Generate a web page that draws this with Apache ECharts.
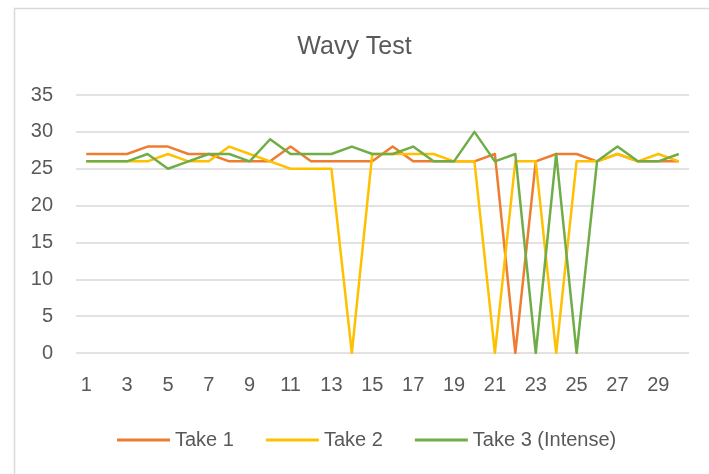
<!DOCTYPE html>
<html>
<head>
<meta charset="utf-8">
<script src="https://cdn.jsdelivr.net/npm/echarts@6/dist/echarts.min.js"></script>
<style>
  html, body { margin: 0; padding: 0; background: #fff; }
  #chart { width: 709px; height: 474px; }
</style>
</head>
<body>
<div id="chart"></div>
<script>
  var categories = [];
  for (var i = 1; i <= 30; i++) categories.push(String(i));

  var take1 = [27, 27, 27, 28, 28, 27, 27, 26, 26, 26, 28, 26, 26, 26, 26, 28, 26, 26, 26, 26, 27, 0, 26, 27, 27, 26, 27, 26, 26, 26];
  var take2 = [26, 26, 26, 26, 27, 26, 26, 28, 27, 26, 25, 25, 25, 0, 27, 27, 27, 27, 26, 26, 0, 26, 26, 0, 26, 26, 27, 26, 27, 26];
  var take3 = [26, 26, 26, 27, 25, 26, 27, 27, 26, 29, 27, 27, 27, 28, 27, 27, 28, 26, 26, 30, 26, 27, 0, 27, 0, 26, 28, 26, 26, 27];

  var font = 'Liberation Sans';
  var textColor = '#595959';

  function lineSeries(name, data, color) {
    return {
      name: name,
      type: 'line',
      data: data,
      symbol: 'none',
      color: color,
      lineStyle: { width: 2.5, color: color, join: 'round' }
    };
  }

  var chart = echarts.init(document.getElementById('chart'));
  chart.setOption({
    animation: false,
    backgroundColor: '#fff',
    textStyle: { fontFamily: font },
    graphic: [{
      type: 'rect',
      left: 12, top: 6,
      shape: { width: 720, height: 500 },
      style: { fill: 'none', stroke: '#d9d9d9', lineWidth: 1.5 },
      silent: true
    }],
    title: {
      text: 'Wavy Test',
      left: 'center',
      top: 30,
      textStyle: { fontFamily: font, fontSize: 25, fontWeight: 'normal', color: textColor }
    },
    legend: {
      left: 112,
      top: 425,
      icon: 'rect',
      itemWidth: 53,
      itemHeight: 3,
      itemGap: 32,
      textStyle: { fontFamily: font, fontSize: 20, color: textColor },
      data: ['Take 1', 'Take 2', 'Take 3 (Intense)']
    },
    grid: { left: 76, right: 20, top: 95, bottom: 121, containLabel: false },
    xAxis: {
      type: 'category',
      data: categories,
      boundaryGap: true,
      axisLine: { show: false },
      axisTick: { show: false },
      axisLabel: { interval: 1, margin: 22, fontSize: 20, color: textColor, fontFamily: font }
    },
    yAxis: {
      type: 'value',
      min: 0,
      max: 35,
      interval: 5,
      axisLine: { show: false },
      axisTick: { show: false },
      axisLabel: { margin: 23, fontSize: 20, color: textColor, fontFamily: font },
      splitLine: { lineStyle: { color: '#d9d9d9', width: 1.5 } }
    },
    series: [
      lineSeries('Take 1', take1, '#ED7D31'),
      lineSeries('Take 2', take2, '#FFC000'),
      lineSeries('Take 3 (Intense)', take3, '#70AD47')
    ]
  });
</script>
</body>
</html>
